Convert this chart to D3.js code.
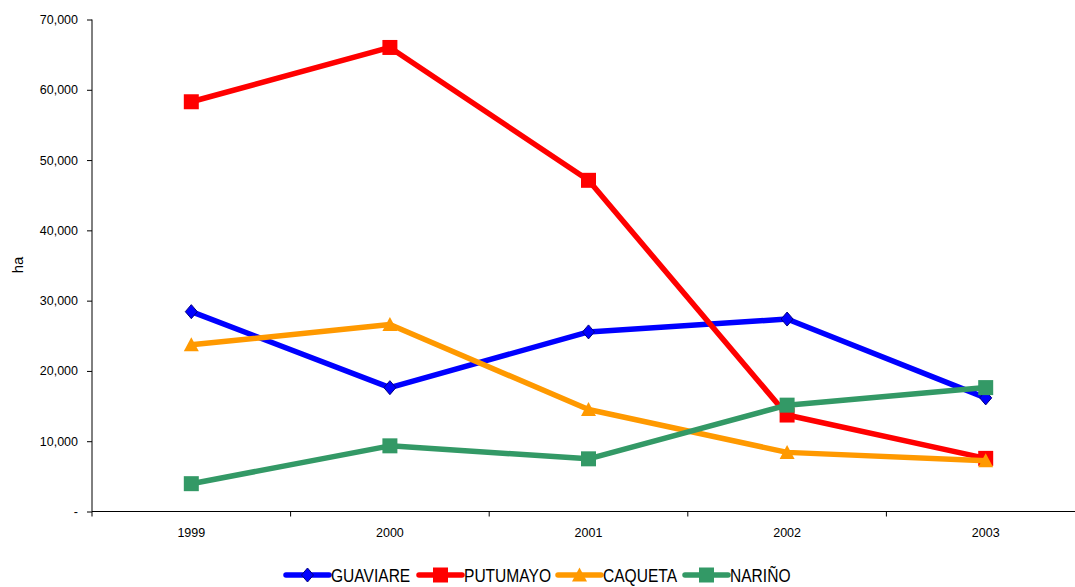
<!DOCTYPE html>
<html>
<head>
<meta charset="utf-8">
<script src="https://cdn.jsdelivr.net/npm/d3@7"></script>
<style>
    body { margin: 0; background: #fff; }
    text { font-family: "Liberation Sans", Arial, sans-serif; fill: #000; }
</style>
</head>
<body>
<svg id="chart" width="1075" height="587"></svg>
<script>
var years = ["1999", "2000", "2001", "2002", "2003"];
var guaviare = [28435, 17619, 25553, 27381, 16163];
var putumayo = [58297, 66022, 47120, 13725, 7559];
var caqueta = [23718, 26603, 14516, 8412, 7230];
var narino = [3959, 9343, 7494, 15131, 17628];
var yTicks = [0, 10000, 20000, 30000, 40000, 50000, 60000, 70000];

var series = [
    { name: "GUAVIARE", values: guaviare, color: "#0000ff", marker: "diamond" },
    { name: "PUTUMAYO", values: putumayo, color: "#ff0000", marker: "square" },
    { name: "CAQUETA", values: caqueta, color: "#ff9900", marker: "triangle" },
    { name: "NARIÑO", values: narino, color: "#339966", marker: "square" }
];

var svg = d3.select("#chart");

var x = d3.scaleBand()
    .domain(years)
    .range([92, 1085]);

var y = d3.scaleLinear()
    .domain([0, 70000])
    .range([511.5, 19.5]);

// Y axis
var yAxis = svg.append("g")
    .attr("transform", "translate(92,0)")
    .call(d3.axisLeft(y)
        .tickValues(yTicks)
        .tickSize(5)
        .tickPadding(9)
        .tickFormat(function (d) { return d === 0 ? "-" : d3.format(",")(d); }));
yAxis.select(".domain").attr("stroke", "#000").attr("d", "M0," + y(70000) + "V" + y(0));
yAxis.selectAll("line").attr("stroke", "#000");
yAxis.selectAll("text").style("font-size", "12.5px");

// X axis
var xAxis = svg.append("g")
    .attr("transform", "translate(0,511.5)");
xAxis.append("line")
    .attr("x1", 92).attr("x2", 1085)
    .attr("stroke", "#000");
xAxis.selectAll("line.tick")
    .data(years)
    .enter()
    .append("line")
    .attr("class", "tick")
    .attr("x1", function (d) { return x(d); })
    .attr("x2", function (d) { return x(d); })
    .attr("y1", 0).attr("y2", 5)
    .attr("stroke", "#000");
xAxis.selectAll("text")
    .data(years)
    .enter()
    .append("text")
    .attr("x", function (d) { return x(d) + x.bandwidth() / 2; })
    .attr("y", 25)
    .attr("text-anchor", "middle")
    .style("font-size", "12.5px")
    .text(function (d) { return d; });

// Y label
svg.append("text")
    .attr("transform", "translate(23,265) rotate(-90)")
    .attr("text-anchor", "middle")
    .style("font-size", "15px")
    .text("ha");

function markerPath(type) {
    if (type === "diamond") return "M0,-7L6,0L0,7L-6,0Z";
    if (type === "triangle") return "M0,-7.5L7.5,6.5L-7.5,6.5Z";
    return "M-7.5,-7.5H7.5V7.5H-7.5Z";
}

var line = d3.line()
    .x(function (d, i) { return x(years[i]) + x.bandwidth() / 2; })
    .y(function (d) { return y(d); });

series.forEach(function (s) {
    var g = svg.append("g");
    g.append("path")
        .attr("d", line(s.values))
        .attr("fill", "none")
        .attr("stroke", s.color)
        .attr("stroke-width", 5.5)
        .attr("stroke-linejoin", "round");
    g.selectAll("path.marker")
        .data(s.values)
        .enter()
        .append("path")
        .attr("class", "marker")
        .attr("transform", function (d, i) {
            return "translate(" + (x(years[i]) + x.bandwidth() / 2) + "," + y(d) + ")";
        })
        .attr("d", markerPath(s.marker))
        .attr("fill", s.color)
        .attr("stroke", s.marker === "diamond" ? "#000080" : "none")
        .attr("stroke-width", 1);
});

// Legend
var legendX = [286, 419, 558, 685];
var legend = svg.append("g");
series.forEach(function (s, i) {
    var lg = legend.append("g")
        .attr("transform", "translate(" + legendX[i] + ",575)");
    lg.append("line")
        .attr("x1", 0).attr("x2", 43)
        .attr("stroke", s.color)
        .attr("stroke-width", 5.5)
        .attr("stroke-linecap", "round");
    lg.append("path")
        .attr("transform", "translate(21.5,0)")
        .attr("d", markerPath(s.marker))
        .attr("fill", s.color)
        .attr("stroke", s.marker === "diamond" ? "#000080" : "none");
    lg.append("text")
        .attr("transform", "translate(45,7) scale(0.89,1)")
        .style("font-size", "17.5px")
        .text(s.name);
});
</script>
</body>
</html>
